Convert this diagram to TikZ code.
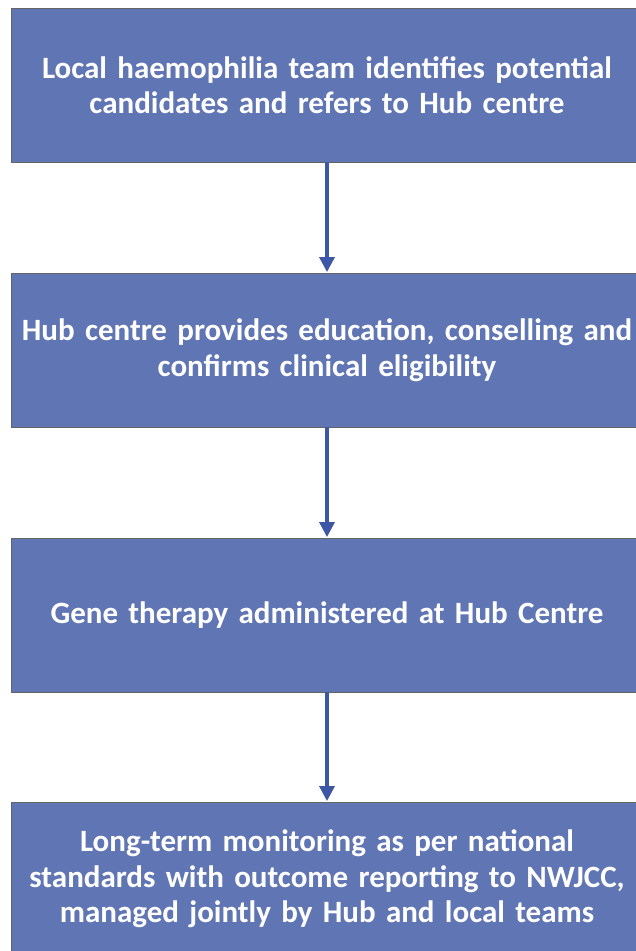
\documentclass[tikz,border=0pt]{standalone}
\usepackage{fontspec}
\setmainfont{Carlito}
\usetikzlibrary{arrows.meta}
\definecolor{boxfill}{RGB}{96,117,180}
\definecolor{boxline}{RGB}{100,100,100}
\definecolor{arrowblue}{RGB}{62,86,166}
\tikzset{
  stepbox/.style={draw=boxline, line width=0.9pt, fill=boxfill,
    minimum width=632pt, minimum height=154pt, inner sep=0pt,
    text=white, font=\fontsize{31}{35.5}\selectfont\bfseries,
    align=center, text width=630pt},
  flow/.style={draw=arrowblue, line width=3.3pt,
    -{Triangle[length=15pt,width=15pt]}, shorten >=0.5pt}
}
\begin{document}
\begin{tikzpicture}[x=1pt,y=1pt]
  \useasboundingbox (0,0) rectangle (635,-951);
  \node[stepbox] (s1) at (327,-85) {Local haemophilia team identifies potential\\candidates and refers to Hub centre};
  \node[stepbox] (s2) at (327,-350) {Hub centre provides education, conselling and\\confirms clinical eligibility};
  \node[stepbox] (s3) at (327,-615) {Gene therapy administered at Hub Centre};
  \node[stepbox] (s4) at (327,-879) {Long-term monitoring as per national\\standards with outcome reporting to NWJCC,\\managed jointly by Hub and local teams};
  \draw[flow] (s1.south) -- (s2.north);
  \draw[flow] (s2.south) -- (s3.north);
  \draw[flow] (s3.south) -- (s4.north);
\end{tikzpicture}
\end{document}
